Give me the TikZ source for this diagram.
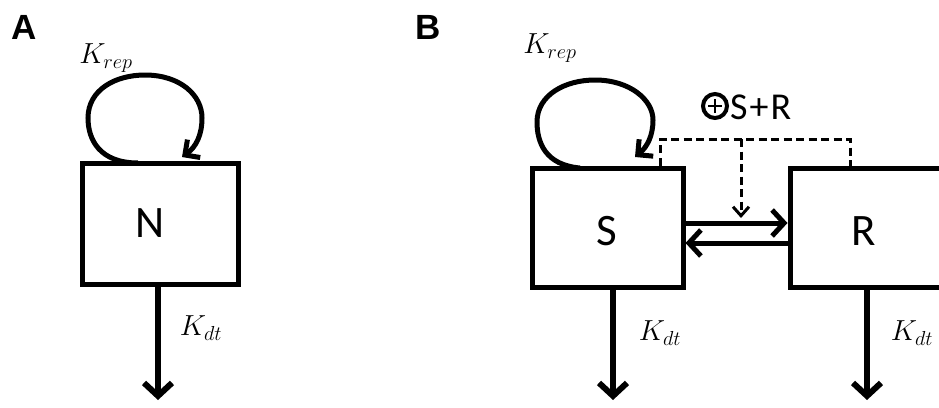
\RequirePackage{fix-cm}
\documentclass[tikz,border=0pt]{standalone}
\usepackage{fontspec}
\newfontfamily\calib{Carlito}
\newfontfamily\panelfont{Liberation Sans}
\usetikzlibrary{arrows.meta}
\tikzset{
  box/.style={draw, line width=5pt, inner sep=0pt},
  boxtext/.style={font=\calib\fontsize{45}{45}\selectfont, inner sep=0pt},
  paneltext/.style={font=\panelfont\bfseries\fontsize{35}{35}\selectfont, inner sep=0pt},
  ktext/.style={font=\fontsize{29}{29}\selectfont, inner sep=0pt},
  flow/.style={line width=6.5pt, -{Straight Barb[length=13pt,width=28pt,line width=6pt]}},
  hflow/.style={line width=5pt, -{Straight Barb[length=12pt,width=26pt,line width=5pt]}},
  loop/.style={line width=5pt, -{Straight Barb[length=11pt,width=22pt,line width=5pt]}},
  dashline/.style={line width=3pt, dash pattern=on 8pt off 4.5pt},
  dasharrow/.style={dashline, -{Straight Barb[length=9pt,width=16pt,line width=3pt]}},
}
\begin{document}
\begin{tikzpicture}[x=1pt,y=-1pt]
\useasboundingbox (0,0) rectangle (939,407);
\clip (0,0) rectangle (939,407);
\fill[white] (0,0) rectangle (939,407);
% panel labels
\node[paneltext] (pA) at (24,27) {A};
\node[paneltext] (pB) at (428,27) {B};
% Panel A
\node[box, minimum width=156pt, minimum height=121pt] (N) at (160,223.5) {};
\node[boxtext] (Nt) at (150,223) {N};
\coordinate (Nend) at (158,400);
\draw[flow] (N.south -| Nend) -- (Nend);
\node[ktext] (KdtA) at (201,328) {$K_{dt}$};
\coordinate (LAs) at (138,163);
\coordinate (LAe) at (182,157);
\draw[loop] (LAs) .. controls (100,163) and (88,140) .. (88,118)
  .. controls (88,90) and (115,75) .. (145,75)
  .. controls (180,75) and (202,95) .. (202,118)
  .. controls (202,135) and (196,147) .. (LAe);
\node[ktext] (KrepA) at (106,58) {$K_{rep}$};
% Panel B
\node[box, minimum width=151pt, minimum height=119pt] (S) at (607.5,227.5) {};
\node[boxtext] (St) at (607,231) {S};
\node[box, minimum width=156pt, minimum height=119pt] (R) at (868,227.5) {};
\node[boxtext] (Rt) at (864,231) {R};
\draw[hflow] (S.east |- 0,223) -- (R.west |- 0,223);
\draw[hflow] (R.west |- 0,243) -- (S.east |- 0,243);
\coordinate (Send) at (613,400);
\coordinate (Rend) at (867,400);
\draw[flow] (S.south -| Send) -- (Send);
\draw[flow] (R.south -| Rend) -- (Rend);
\node[ktext] (KdtS) at (660,333) {$K_{dt}$};
\node[ktext] (KdtR) at (912,333) {$K_{dt}$};
\coordinate (LBs) at (580,168);
\coordinate (LBe) at (635,157);
\draw[loop] (LBs) .. controls (545,165) and (537,142) .. (537,122)
  .. controls (537,95) and (565,80) .. (595,80)
  .. controls (630,80) and (653,100) .. (653,120)
  .. controls (653,136) and (647,147) .. (LBe);
\node[ktext] (KrepB) at (550,48) {$K_{rep}$};
% dashed regulation
\draw[dashline] (S.north -| 660,0) -- (660,139) -- (850,139) -- (R.north -| 850,0);
\coordinate (dtop) at (741,139);
\coordinate (dend) at (741,218);
\draw[dasharrow] (dtop) -- (dend);
\node[draw, circle, line width=4pt, minimum size=24pt, inner sep=0pt] (plus) at (715,106) {};
\draw[line width=2.5pt] ([xshift=-7pt]plus.center) -- ([xshift=7pt]plus.center)
  ([yshift=-7pt]plus.center) -- ([yshift=7pt]plus.center);
\node[font=\calib\fontsize{38}{38}\selectfont, inner sep=0pt, anchor=west] (SR) at (730,107) {S\kern2pt+\kern2pt R};
\end{tikzpicture}
\end{document}
